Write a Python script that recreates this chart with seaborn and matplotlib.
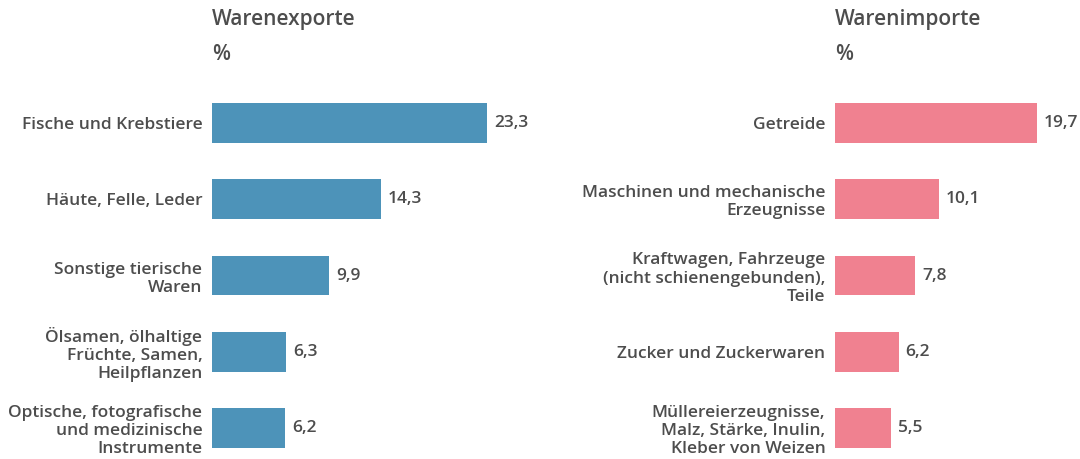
import matplotlib
matplotlib.use("Agg")
import matplotlib.pyplot as plt
import seaborn as sns
import pandas as pd

# Daten
export_labels = ["Fische und Krebstiere", "Häute, Felle, Leder", "Sonstige tierische\nWaren",
                 "Ölsamen, ölhaltige\nFrüchte, Samen,\nHeilpflanzen",
                 "Optische, fotografische\nund medizinische\nInstrumente"]
export_values = [23.3, 14.3, 9.9, 6.3, 6.2]
import_labels = ["Getreide", "Maschinen und mechanische\nErzeugnisse",
                 "Kraftwagen, Fahrzeuge\n(nicht schienengebunden),\nTeile",
                 "Zucker und Zuckerwaren",
                 "Müllereierzeugnisse,\nMalz, Stärke, Inulin,\nKleber von Weizen"]
import_values = [19.7, 10.1, 7.8, 6.2, 5.5]

sns.set_theme(style="white")
plt.rcParams["font.family"] = ["Open Sans", "DejaVu Sans"]
txt = "#4d4d4d"

W, H = 1080, 459
fig = plt.figure(figsize=(W / 100, H / 100), dpi=100)

def panel(x0, width, xmax, labels, values, color, title):
    # axes in pixel coordinates: rows from y=86 to y=467
    ax = fig.add_axes([x0 / W, (H - 466) / H, width / W, 381 / H])
    df = pd.DataFrame({"label": labels, "value": values})
    sns.barplot(data=df, y="label", x="value", color=color, width=0.52,
                saturation=1, linewidth=0, ax=ax)
    ax.set_xlim(0, xmax)
    ax.set_ylim(4.5, -0.5)
    for s in ax.spines.values():
        s.set_visible(False)
    ax.set_xticks([])
    ax.set_xlabel("")
    ax.set_ylabel("")
    ax.tick_params(axis="y", length=0, pad=7)
    for t in ax.get_yticklabels():
        t.set_fontsize(12.5)
        t.set_fontweight(600)
        t.set_color(txt)
        t.set_multialignment("right")
        t.set_linespacing(1.17)
    for i, v in enumerate(values):
        ax.annotate(f"{v:.1f}".replace(".", ","), (v, i), xytext=(5, 0),
                    textcoords="offset points", va="center", ha="left",
                    fontsize=12.5, fontweight=600, color=txt)
    fig.text(x0 / W, 1 - 20 / H, title, fontsize=15, fontweight=600, color=txt,
             va="center", ha="left")
    fig.text(x0 / W, 1 - 54 / H, "%", fontsize=15, fontweight=600, color=txt,
             va="center", ha="left")
    return ax

panel(212, 300, 300 / 11.8, export_labels, export_values, "#4D93B9", "Warenexporte")
panel(835, 220, 220 / 10.25, import_labels, import_values, "#F08190", "Warenimporte")

fig.savefig("out.png", dpi=100)
